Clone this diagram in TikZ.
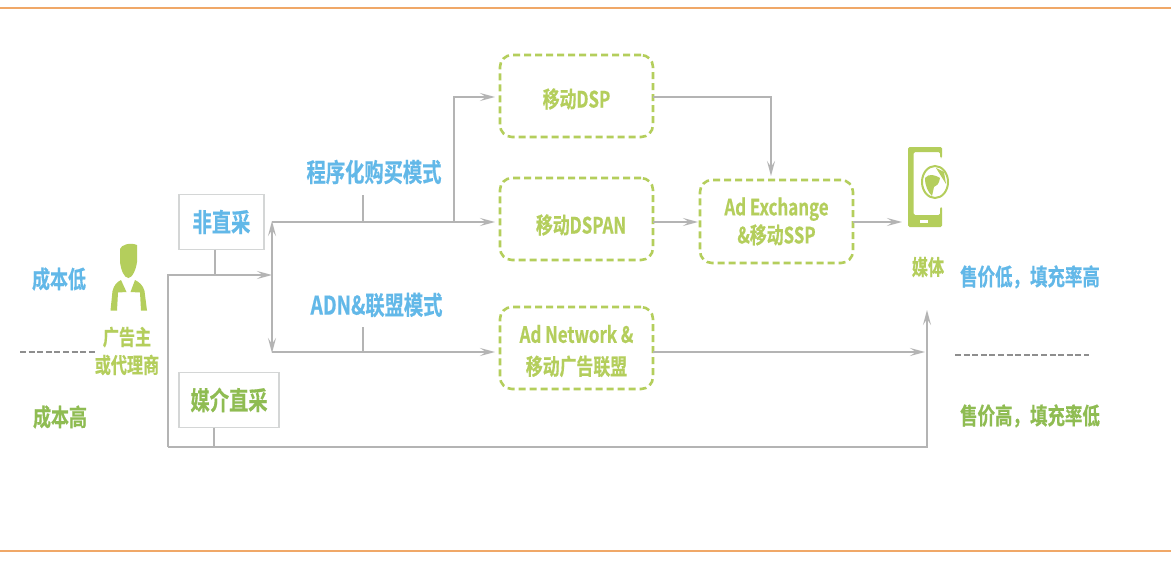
\documentclass[tikz,border=0pt]{standalone}
\usepackage{fontspec}
\setmainfont[FakeStretch=0.75,FakeBold=0.5]{Noto Sans CJK SC Bold}
\usetikzlibrary{arrows.meta}
\definecolor{lblue}{HTML}{62B8E8}
\definecolor{dgreen}{HTML}{8FBC52}
\definecolor{lgreen}{HTML}{B4CE5C}
\definecolor{cline}{HTML}{B4B4B4}
\definecolor{cbox}{HTML}{D4D6D6}
\definecolor{corange}{HTML}{F0A868}
\definecolor{cdash}{HTML}{8E8E8E}
\tikzset{
  conn/.style={draw=cline,line width=1.3pt},
  arr/.style={conn,-{Stealth[length=15pt,width=8pt,inset=6pt,color=cline]}},
  darr/.style={conn,{Stealth[length=15pt,width=8pt,inset=6pt,color=cline]}-{Stealth[length=15pt,width=8pt,inset=6pt,color=cline]}},
  plainbox/.style={draw=cbox,line width=1.6pt,fill=white,inner sep=0pt,font=\fontsize{25.7}{28}\selectfont},
  dashbox/.style={draw=lgreen,line width=2.6pt,rounded corners=12pt,dash pattern=on 7pt off 4pt,minimum width=153pt,inner sep=0pt,text=lgreen,align=center,font=\fontsize{22.5}{28}\selectfont},
  boxlab/.style={text=lgreen,inner sep=0pt,align=center,font=\fontsize{22.5}{28}\selectfont},
  bluelab/.style={text=lblue,inner sep=0pt,font=\fontsize{25.7}{28}\selectfont},
  greenlab/.style={text=dgreen,inner sep=0pt,font=\fontsize{24}{26}\selectfont},
  sidelab/.style={inner sep=0pt,font=\fontsize{24}{26}\selectfont},
  iconlab/.style={text=lgreen,inner sep=0pt,align=center,font=\fontsize{21.5}{28}\selectfont},
  sep/.style={draw=cdash,line width=2.6pt,dash pattern=on 6pt off 2.6pt},
  rule/.style={draw=corange,line width=1.8pt}
}
\begin{document}
\begin{tikzpicture}[x=1pt,y=-1pt]
\useasboundingbox[fill=white] (0,0) rectangle (1171,562);
\coordinate (tl) at (0,8); \coordinate (tr) at (1171,8);
\coordinate (bl) at (0,551); \coordinate (br) at (1171,551);
\draw[rule] (tl) -- (tr);
\draw[rule] (bl) -- (br);

% boxes
\node[plainbox,minimum width=85pt,minimum height=55pt,text=lblue] (fz) at (221.5,222) {非直采};
\node[plainbox,minimum width=100pt,minimum height=55pt,text=dgreen] (mj) at (229,400) {媒介直采};
\node[dashbox,minimum height=82pt,label={[boxlab,yshift=-3pt]center:移动DSP}] (dsp) at (576.5,96) {};
\node[dashbox,minimum height=82pt,label={[boxlab,xshift=4.5pt,yshift=-6pt]center:移动DSPAN}] (dspan) at (576.5,219) {};
\node[dashbox,minimum height=83pt] (adx) at (776.5,221.5) {Ad Exchange\\\&移动SSP};
\node[dashbox,minimum height=82pt,label={[boxlab,yshift=-3pt]center:Ad Network \&\\[4pt]移动广告联盟}] (adn) at (576.5,348) {};

% labels
\node[bluelab] (cx) at (374,172) {程序化购买模式};
\node[bluelab] (adnl) at (376.5,305) {ADN\&联盟模式};
\node[sidelab,text=lblue] (lowc) at (59,279) {成本低};
\node[greenlab] (highc) at (60,417) {成本高};
\node[sidelab,text=lblue,font=\fontsize{23.3}{26}\selectfont] (lows) at (1030,277) {售价低，填充率高};
\node[greenlab,font=\fontsize{23.3}{26}\selectfont] (highs) at (1030,416) {售价高，填充率低};
\node[iconlab] (adv) at (127,351) {广告主\\或代理商};
\node[iconlab] (media) at (928,267) {媒体};

% junctions
\coordinate (a) at (272,222);
\coordinate (b) at (272,352);
\coordinate (c) at (272,275);
\coordinate (d) at (168,275);
\coordinate (e) at (168,447);
\coordinate (f) at (927,447);
\coordinate (g) at (927,310);
\coordinate (h) at (454,222);
\coordinate (i) at (454,97);
\coordinate (j) at (495,97);
\coordinate (k) at (495,222);
\coordinate (l) at (495,352);
\coordinate (m) at (771,97);
\coordinate (n) at (771,176);
\coordinate (o) at (925,352);
\coordinate (p) at (902,222);
\coordinate (q) at (698,222);
\coordinate (f1) at (215,275);
\coordinate (m1) at (214,447);
\coordinate (s1) at (363,195);
\coordinate (s2) at (363,222);
\coordinate (s3) at (363,327);
\coordinate (s4) at (363,352);
\coordinate (dspR) at (653,97);
\coordinate (dspanR) at (653,222);
\coordinate (adxR) at (853,222);
\coordinate (adnR) at (653,352);
\coordinate (fzB) at (215,249.5);
\coordinate (mjB) at (214,427.5);

% connectors
\draw[conn] (fzB) -- (f1);
\draw[conn] (mjB) -- (m1);
\draw[arr] (e) -- (d) -- (c);
\draw[arr] (e) -- (f) -- (g);
\draw[darr] (a) ++(0,-1) -- (272,353);
\draw[arr] (a) -- (k);
\draw[arr] (h) -- (i) -- (j);
\draw[arr] (b) -- (l);
\draw[conn] (s1) -- (s2);
\draw[conn] (s3) -- (s4);
\draw[arr] (dspR) -- (m) -- (n);
\draw[arr] (dspanR) -- (q);
\draw[arr] (adxR) -- (p);
\draw[arr] (adnR) -- (o);

% dashed separators
\coordinate (sa) at (20,352); \coordinate (sb) at (96,352);
\coordinate (sc) at (955,355); \coordinate (sd) at (1089,355);
\draw[sep] (sa) -- (sb);
\draw[sep] (sc) -- (sd);

% person
\fill[lgreen] (120,249) .. controls (121,245) and (130,242) .. (137,245)
  -- (137,262) .. controls (136,270) and (132,278) .. (128.5,278)
  .. controls (124,278) and (121,270) .. (120,262) -- cycle;
\fill[lgreen] (121,280) -- (126.5,292) -- (118,292.5) -- (117,310.5) -- (110.5,310.5) -- (112.5,291) .. controls (114,285) and (117,282) .. (121,280) -- cycle;
\fill[lgreen] (135,280) -- (130.5,292) -- (140,292.5) -- (141,310.5) -- (147,310.5) -- (144.5,291) .. controls (143,285) and (139,282) .. (135,280) -- cycle;

% phone
\fill[lgreen,rounded corners=1.5pt] (942,158) -- (942,147) -- (908,147) -- (908,227) -- (942,227) -- (942,207) -- (940,207) -- (940,215) -- (913.5,215) -- (913.5,152) -- (940,152) -- (940,158) -- cycle;
\fill[white] (920,219.5) rectangle (928,222.5);
\draw[lgreen,line width=2pt,fill=white] (935,182) ellipse (13pt and 16pt);
\fill[lgreen] (925,178) .. controls (929,173) and (935,175) .. (940,178) .. controls (939,184) and (937,186) .. (934,187) -- (932,196) .. controls (928,192) and (925,186) .. (925,178) -- cycle;
\fill[lgreen] (936,168) -- (944,172) -- (946,184) -- (941,176) -- cycle;
\end{tikzpicture}
\end{document}
